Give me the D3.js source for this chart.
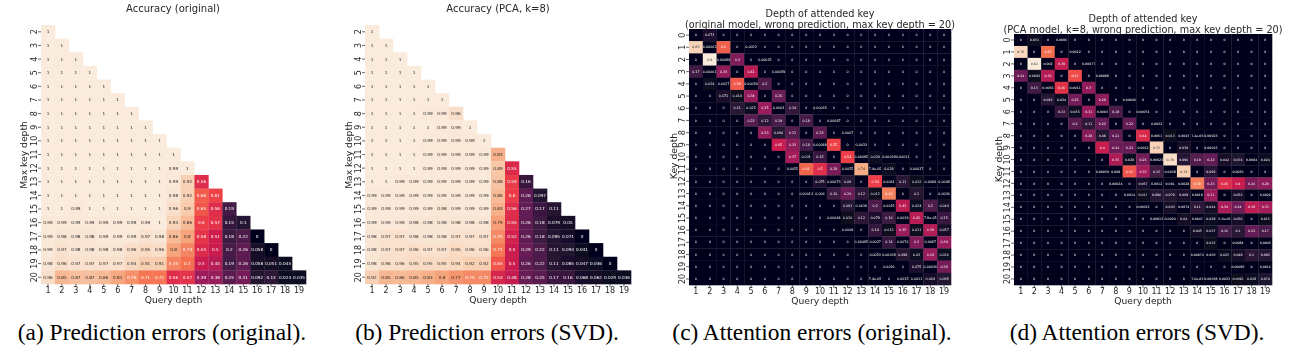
<!DOCTYPE html>
<html><head><meta charset="utf-8">
<script src="https://cdnjs.cloudflare.com/ajax/libs/d3/7.8.5/d3.min.js"></script>
<style>html,body{margin:0;padding:0;background:#fff;overflow:hidden}svg{display:block}</style>
</head><body><svg id="c" width="1295" height="351"><defs><filter id="soft" x="-5%" y="-5%" width="110%" height="110%"><feGaussianBlur stdDeviation="0.3"/></filter></defs></svg>
<script>
const queryDepths = d3.range(1, 20);
const maxKeyDepths = d3.range(2, 21);
const keyDepths = d3.range(0, 21);

// Lower-triangular accuracy tables: one row per max key depth
const accuracyOriginal = [
[1],[1,1],[1,1,1],[1,1,1,1],[1,1,1,1,1],[1,1,1,1,1,1],[1,1,1,1,1,1,1],[1,1,1,1,1,1,1,1],[1,1,1,1,1,1,1,1,1],
[1,1,1,1,1,1,1,1,1,1],
[1,1,1,1,1,1,1,1,1,0.99,1],
[1,1,1,1,1,1,1,1,1,0.99,0.92,0.56],
[1,1,1,1,1,1,1,1,1,0.98,0.92,0.66,0.61],
[1,1,0.99,1,1,1,1,1,1,0.96,0.9,0.65,0.56,0.19],
[0.99,0.99,0.99,0.99,0.99,0.99,0.99,0.99,1,0.93,0.86,0.6,0.57,0.15,0.1],
[0.99,0.98,0.98,0.98,0.99,0.99,0.99,0.97,0.98,0.86,0.8,0.58,0.51,0.18,0.22,0],
[0.99,0.97,0.98,0.98,0.98,0.98,0.96,0.95,0.96,0.8,0.74,0.55,0.5,0.2,0.26,0.058,0],
[0.98,0.96,0.97,0.97,0.97,0.97,0.94,0.91,0.91,0.74,0.7,0.5,0.45,0.19,0.26,0.058,0.051,0.045],
[0.96,0.85,0.87,0.87,0.86,0.81,0.76,0.71,0.71,0.56,0.57,0.39,0.38,0.25,0.31,0.092,0.13,0.024,0.035]
];
const accuracyPca = [
[1],[1,1],[1,1,1],[1,1,1,1],[1,1,1,1,1],[1,1,1,1,1,1],
[1,1,1,1,0.99,0.99,0.96],
[1,1,1,1,1,0.99,0.99,1],
[1,1,1,1,0.99,0.99,0.99,0.99,1],
[1,1,1,1,0.99,0.99,0.99,0.99,0.99,0.83],
[1,1,1,1,0.99,0.99,0.99,0.99,0.99,0.89,0.55],
[1,1,0.99,0.99,0.99,0.99,0.99,0.99,0.99,0.88,0.59,0.16],
[0.99,0.99,0.99,0.99,0.99,0.99,0.99,0.99,0.99,0.86,0.6,0.26,0.097],
[0.99,0.99,0.99,0.99,0.99,0.98,0.99,0.99,0.99,0.83,0.56,0.27,0.17,0.11],
[0.99,0.99,0.99,0.98,0.98,0.98,0.98,0.98,0.98,0.79,0.55,0.26,0.18,0.079,0.05],
[0.98,0.97,0.97,0.98,0.98,0.98,0.97,0.97,0.97,0.75,0.52,0.26,0.18,0.095,0.071,0],
[0.98,0.97,0.97,0.96,0.97,0.97,0.95,0.96,0.96,0.71,0.5,0.29,0.22,0.11,0.093,0.041,0],
[0.98,0.96,0.96,0.95,0.95,0.95,0.94,0.92,0.92,0.65,0.5,0.26,0.22,0.11,0.085,0.047,0.046,0],
[0.92,0.85,0.86,0.85,0.83,0.8,0.77,0.75,0.75,0.53,0.48,0.28,0.25,0.17,0.16,0.068,0.062,0.029,0.036]
];
// Full attention tables: one row per key depth (0-20), one column per query depth (1-19)
const attentionOriginal = [
[0,0.073,0,0,0,0,0,0,0,0,0,0,0,0,0,0,0,0,0],
[0.83,0.00062,0.6,0,0.0022,0,0,0,0,0,0,0,0,0,0,0,0,0,0],
[0,0.9,0.00088,0.3,0,0.00035,0,0,0,0,0,0,0,0,0,0,0,0,0],
[0.17,0.00061,0.33,0,0.41,0,0.00059,0,0,0,0,0,0,0,0,0,0,0,0],
[0,0.024,0.0027,0.59,0.00054,0.2,0,0,0,0,0,0,0,0,0,0,0,0,0],
[0,0,0.071,0.014,0.34,0,0.26,0,0,0,0,0,0,0,0,0,0,0,0],
[0,0,0,0.11,0.025,0.35,0.0003,0.14,0,0.00035,0,0,0,0,0,0,0,0,0],
[0,0,0,0,0.22,0.12,0.19,0,0.18,0,0.00087,0,0,0,0,0,0,0,0],
[0,0,0,0,0,0.33,0.096,0.21,0,0.23,0,0.0007,0,0,0,0,0,0,0],
[0,0,0,0,0,0,0.45,0.33,0.18,0.00088,0.55,0,0.0013,0,0,0,0,0,0],
[0,0,0,0,0,0,0,0.37,0.031,0.15,0,0.54,0.00085,0.024,0.00038,0.00011,0,0,0],
[0,0,0,0,0,0,0,0.0055,0.61,0.5,0.29,0.0055,0.74,0.000074,0.028,0,0.00037,0,0],
[0,0,0,0,0,0,0,0,0,0.075,0.00073,0.09,0,0.54,0.0061,0.11,0.012,0.0094,0.0048],
[0,0,0,0,0,0,0,0,0.00013,0.006,0.16,0.26,0.12,0.012,0.66,0,0.1,0,0.0036],
[0,0,0,0,0,0,0,0,0,0,0,0.091,0.0019,0.2,0.0015,0.42,0.024,0.2,0.044],
[0,0,0,0,0,0,0,0,0,0,0.00044,0.016,0.12,0.079,0.16,0.0019,0.41,0.000078,0.15],
[0,0,0,0,0,0,0,0,0,0,0,0.0008,0,0.14,0.013,0.35,0.011,0.39,0.057],
[0,0,0,0,0,0,0,0,0,0,0,0,0.00095,0.0027,0.14,0.0076,0.3,0.0087,0.34],
[0,0,0,0,0,0,0,0,0,0,0,0,0,0.0053,0.00038,0.098,0.03,0.34,0.026],
[0,0,0,0,0,0,0,0,0,0,0,0,0,0,0.0026,0,0.075,0.00036,0.28],
[0,0,0,0,0,0,0,0,0,0,0,0,0,0.000074,0,0.0015,0.0011,0.064,0.095]
];
const attentionPca = [
[0,0.031,0,0.0006,0,0,0,0,0,0,0,0,0,0,0,0,0,0,0],
[0.76,0,0.56,0,0.0022,0,0,0,0,0,0,0,0,0,0,0,0,0,0],
[0,0.81,0.002,0.39,0,0.00077,0,0,0,0,0,0,0,0,0,0,0,0,0],
[0.24,0.0092,0.36,0,0.51,0,0.00089,0,0,0,0,0,0,0,0,0,0,0,0],
[0,0.15,0.0056,0.46,0.0011,0.3,0,0,0,0,0,0,0,0,0,0,0,0,0],
[0,0,0.093,0.024,0.25,0,0.29,0,0.00046,0,0,0,0,0,0,0,0,0,0],
[0,0,0,0.13,0.035,0.31,0.0003,0.18,0,0.00074,0,0,0,0,0,0,0,0,0],
[0,0,0,0,0.2,0.11,0.22,0,0.22,0,0.0022,0,0,0,0,0,0,0,0],
[0,0,0,0,0,0.28,0.08,0.21,0,0.44,0.0051,0.013,0.0043,0.000074,0.00023,0,0,0,0],
[0,0,0,0,0,0,0.4,0.24,0.23,0.0012,0.75,0,0.038,0,0.00015,0,0,0,0],
[0,0,0,0,0,0,0,0.35,0.028,0.25,0.00023,0.78,0.096,0.19,0.22,0.042,0.074,0.0084,0.024],
[0,0,0,0,0,0,0.00059,0.008,0.52,0.33,0.15,0.0038,0.74,0,0.093,0,0.0036,0,0],
[0,0,0,0,0,0,0,0.00024,0,0.057,0.0012,0.001,0.0028,0.59,0.25,0.45,0.4,0.26,0.29],
[0,0,0,0,0,0,0,0,0.0014,0.017,0.096,0.079,0.069,0.0018,0.31,0,0.053,0,0.0026],
[0,0,0,0,0,0,0,0,0,0.00015,0,0.043,0.0074,0.11,0.044,0.34,0.24,0.38,0.33],
[0,0,0,0,0,0,0,0,0,0,0.00015,0.0024,0.04,0.0047,0.028,0.000056,0.056,0,0.015],
[0,0,0,0,0,0,0,0,0,0,0,0,0,0.045,0.037,0.16,0.1,0.22,0.17],
[0,0,0,0,0,0,0,0,0,0,0,0,0,0,0.015,0,0.0084,0,0.0045],
[0,0,0,0,0,0,0,0,0,0,0,0,0,0.00074,0.003,0.025,0.048,0.1,0.095],
[0,0,0,0,0,0,0,0,0,0,0,0,0,0,0,0,0.00095,0,0.0016],
[0,0,0,0,0,0,0,0,0,0,0,0,0,0.000076,0.00038,0.0023,0.0095,0.028,0.074]
];
const titles = [
  ["Accuracy (original)"],
  ["Accuracy (PCA, k=8)"],
  ["Depth of attended key","(original model, wrong prediction, max key depth = 20)"],
  ["Depth of attended key","(PCA model, k=8, wrong prediction, max key depth = 20)"]
];
const captions = ["(a) Prediction errors (original).","(b) Prediction errors (SVD).","(c) Attention errors (original).","(d) Attention errors (SVD)."];
const yLabels = ["Max key depth","Max key depth","Key depth","Key depth"];
const xLabel = "Query depth";

const rocketStops = ["#03051a","#221331","#451c47","#6f1f59","#a11a5b","#cb1b4f","#ed3d48","#f47150","#f6a47c","#f7cbab","#faebdd"];
const rocket = d3.scaleLinear().domain(d3.range(11).map(i=>i/10)).range(rocketStops).interpolate(d3.interpolateRgb).clamp(true);

function fmt(v){
  if(v===0) return "0";
  if(v<1e-4){ return v.toExponential(1).replace(/e-(\d)$/,"e-0$1"); }
  return d3.format(".2~r")(v);
}
function lum(hex){
  const c=d3.rgb(hex);
  const f=x=>{x/=255;return x<=0.03928?x/12.92:Math.pow((x+0.055)/1.055,2.4)};
  return 0.2126*f(c.r)+0.7152*f(c.g)+0.0722*f(c.b);
}

const panels = [
 {data:accuracyOriginal,rows:maxKeyDepths,x0:41,x1:306,y0:25,y1:284,vmax:1,tx:173,ty:[11.5],cx:162,lx:24,ly:155,idx:0,fs:4.2},
 {data:accuracyPca,rows:maxKeyDepths,x0:365,x1:631,y0:25,y1:284,vmax:1,tx:498,ty:[11.5],cx:487,lx:349,ly:155,idx:1,fs:4.2},
 {data:attentionOriginal,rows:keyDepths,x0:689,x1:951,y0:29,y1:285,vmax:0.9,tx:820,ty:[16.5,27.5],cx:812,lx:674,ly:156,idx:2,fs:3.3},
 {data:attentionPca,rows:keyDepths,x0:1014,x1:1272,y0:34,y1:285,vmax:0.81,tx:1143,ty:[21.5,32.5],cx:1137,lx:999,ly:159,idx:3,fs:3.2}
];

const svg = d3.select("#c");
panels.forEach(p=>{
  const x=d3.scaleBand().domain(queryDepths).range([p.x0,p.x1]);
  const y=d3.scaleBand().domain(p.rows).range([p.y0,p.y1]);
  const color=d3.scaleLinear().domain([0,p.vmax]).range([0,1]);
  const g=svg.append("g").attr("filter","url(#soft)");
  const cells=p.data.flatMap((row,i)=>row.map((v,j)=>({v,q:queryDepths[j],r:p.rows[i]})));
  g.selectAll("rect").data(cells).join("rect")
    .attr("x",d=>x(d.q)).attr("y",d=>y(d.r))
    .attr("width",x.bandwidth()+0.3).attr("height",y.bandwidth()+0.3)
    .attr("fill",d=>rocket(color(d.v)));
  g.selectAll("text.v").data(cells).join("text").attr("class","v")
    .attr("x",d=>x(d.q)+x.bandwidth()/2).attr("y",d=>y(d.r)+y.bandwidth()/2)
    .attr("dy","0.35em").attr("text-anchor","middle")
    .attr("font-family","DejaVu Sans").attr("font-size",p.fs)
    .attr("fill",d=>lum(rocket(color(d.v)))<0.408?"#ffffff":"#262626")
    .text(d=>fmt(d.v));
  const ax=g.append("g").attr("transform",`translate(0,${p.y1})`).call(d3.axisBottom(x).tickSize(3).tickPadding(0.4));
  const ay=g.append("g").attr("transform",`translate(${p.x0},0)`).call(d3.axisLeft(y).tickSize(3).tickPadding(1.5));
  [ax,ay].forEach(a=>{
    a.select(".domain").remove();
    a.selectAll("line").attr("stroke","#262626").attr("stroke-width",0.7);
    a.selectAll("text").attr("font-family","DejaVu Sans").attr("font-size",8).attr("fill","#262626");
  });
  ay.selectAll("text").attr("transform",function(){
    const xx=+d3.select(this).attr("x");
    return `rotate(-90 ${xx} 0)`;
  }).attr("text-anchor","middle").attr("dy",0);
  g.append("text").attr("x",(p.x0+p.x1)/2).attr("y",p.y1+19.3).attr("text-anchor","middle")
    .attr("font-family","DejaVu Sans").attr("font-size",9.2).attr("fill","#262626").text(xLabel);
  g.append("text").attr("transform",`translate(${p.lx+3},${p.ly}) rotate(-90)`).attr("text-anchor","middle")
    .attr("font-family","DejaVu Sans").attr("font-size",9.2).attr("fill","#262626").text(yLabels[p.idx]);
  titles[p.idx].forEach((t,i)=>g.append("text").attr("x",p.tx).attr("y",p.ty[i])
    .attr("text-anchor","middle").attr("font-family","DejaVu Sans").attr("font-size",p.ty.length>1?9.7:10).attr("fill","#262626").text(t));
  svg.append("text").attr("x",p.cx).attr("y",340).attr("text-anchor","middle")
    .attr("font-family","Liberation Serif").attr("font-size",23.4).attr("fill","#000").text(captions[p.idx]);
});
</script></body></html>
